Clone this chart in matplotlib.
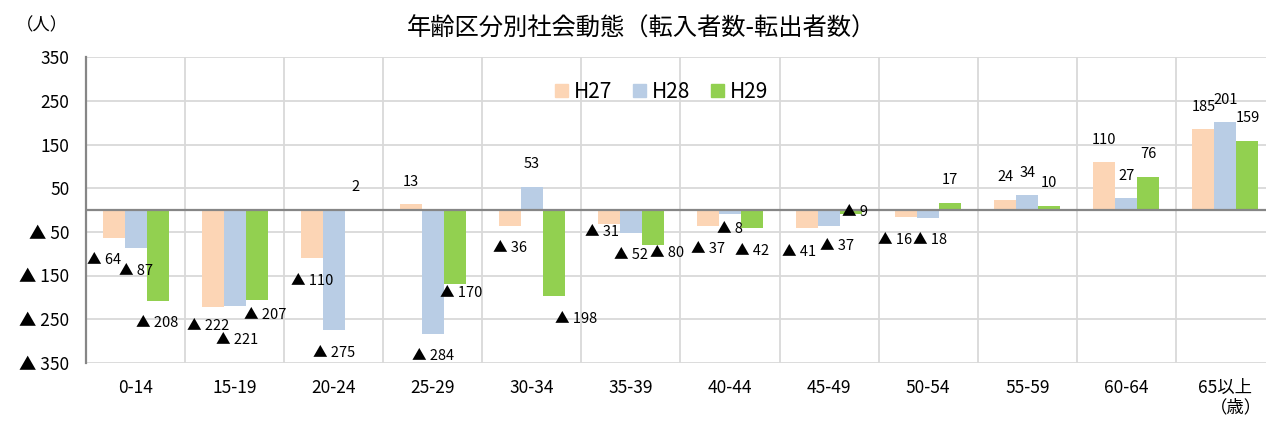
import numpy as np
import matplotlib
matplotlib.use('Agg')
import matplotlib.pyplot as plt
from matplotlib.patches import Patch

plt.rcParams['font.family'] = ['Noto Sans CJK JP', 'DejaVu Sans']

# --- data (persons, inflow - outflow) ---
age_groups = ['0-14', '15-19', '20-24', '25-29', '30-34', '35-39',
              '40-44', '45-49', '50-54', '55-59', '60-64', '65以上']
series_names = ['H27', 'H28', 'H29']
h27 = [-64, -222, -110, 13, -36, -31, -37, -41, -16, 24, 110, 185]
h28 = [-87, -221, -275, -284, 53, -52, -8, -37, -18, 34, 27, 201]
h29 = [-208, -207, 2, -170, -198, -80, -42, -9, 17, 10, 76, 159]
y_ticks = [350, 250, 150, 50, -50, -150, -250, -350]

colors = ['#FCD5B5', '#B9CDE5', '#92D050']

# hand-placed data labels in the original: (series, group) -> (dx, dy) pixels
label_nudge = {
    (0, 0): (-9, -1), (0, 1): (-5, -3), (1, 1): (2, 11), (2, 1): (9, -8),
    (2, 3): (6, -14), (2, 4): (22, 0), (0, 5): (-7, -14), (2, 5): (14, -14),
    (1, 6): (0, -7), (0, 7): (-8, 2), (1, 7): (8, -3), (2, 7): (4, -25),
    (0, 8): (-11, 0), (1, 8): (2, 0),
}
PX = 0.72  # points per pixel at 100 dpi


def fmt(v):
    # negative numbers are written with a triangle, Japanese style
    return f'▲ {abs(v)}' if v < 0 else f'{v}'


def create_chart():
    fig = plt.figure(figsize=(12.66, 4.23), dpi=100)
    ax = fig.add_axes([86 / 1266, 1 - 362.7 / 423, (1275 - 86) / 1266, (362.7 - 57.5) / 423])

    x = np.arange(len(age_groups))
    w = 0.222
    for j, (vals, c) in enumerate(zip([h27, h28, h29], colors)):
        pos = x + (j - 1) * w
        ax.bar(pos, vals, width=w, color=c, zorder=3)
        for i, (xp, v) in enumerate(zip(pos, vals)):
            dx, dy = label_nudge.get((j, i), (0, 0))
            base = 22.5 if v >= 0 else -22.5
            ax.annotate(fmt(v), (xp, v), xytext=(dx * PX, (base - dy) * PX),
                        textcoords='offset points',
                        ha='center', va='center', fontsize=10.5, zorder=5)

    ax.set_xlim(-0.5, len(age_groups) - 0.5)
    ax.set_ylim(-350, 350)

    # y axis with triangle labels
    ax.set_yticks(y_ticks)
    ax.set_yticklabels([fmt(t) for t in y_ticks], fontsize=12.5)
    ax.tick_params(axis='y', length=0, pad=12)

    # category labels, vertical grid between categories
    ax.set_xticks(x)
    ax.set_xticklabels(age_groups, fontsize=12.5)
    ax.set_xticks(np.arange(len(age_groups) + 1) - 0.5, minor=True)
    ax.tick_params(axis='x', which='both', length=0, pad=12)

    ax.grid(True, which='major', axis='y', color='#D9D9D9', lw=1.3, zorder=0)
    ax.grid(True, which='minor', axis='x', color='#D9D9D9', lw=1.3, zorder=0)
    ax.axhline(0, color='#868686', lw=1.6, zorder=4)

    for s in ['top', 'right', 'bottom']:
        ax.spines[s].set_visible(False)
    ax.spines['left'].set_color('#868686')
    ax.spines['left'].set_linewidth(1.6)

    handles = [Patch(color=c, label=n) for c, n in zip(colors, series_names)]
    fig.legend(handles=handles, loc='center', bbox_to_anchor=(662 / 1266, 1 - 92 / 423),
               ncol=3, frameon=False, fontsize=15, handlelength=0.6, handleheight=0.6,
               handletextpad=0.3, columnspacing=1.0)

    fig.text(641 / 1266, 1 - 29 / 423, '年齢区分別社会動態（転入者数-転出者数）',
             ha='center', va='center', fontsize=17.5)
    fig.text(42 / 1266, 1 - 25 / 423, '（人）', ha='center', va='center', fontsize=12.5)
    fig.text(1236 / 1266, 1 - 407 / 423, '（歳）', ha='center', va='center', fontsize=12.5)

    fig.savefig('out.png', dpi=100)


if __name__ == '__main__':
    create_chart()
